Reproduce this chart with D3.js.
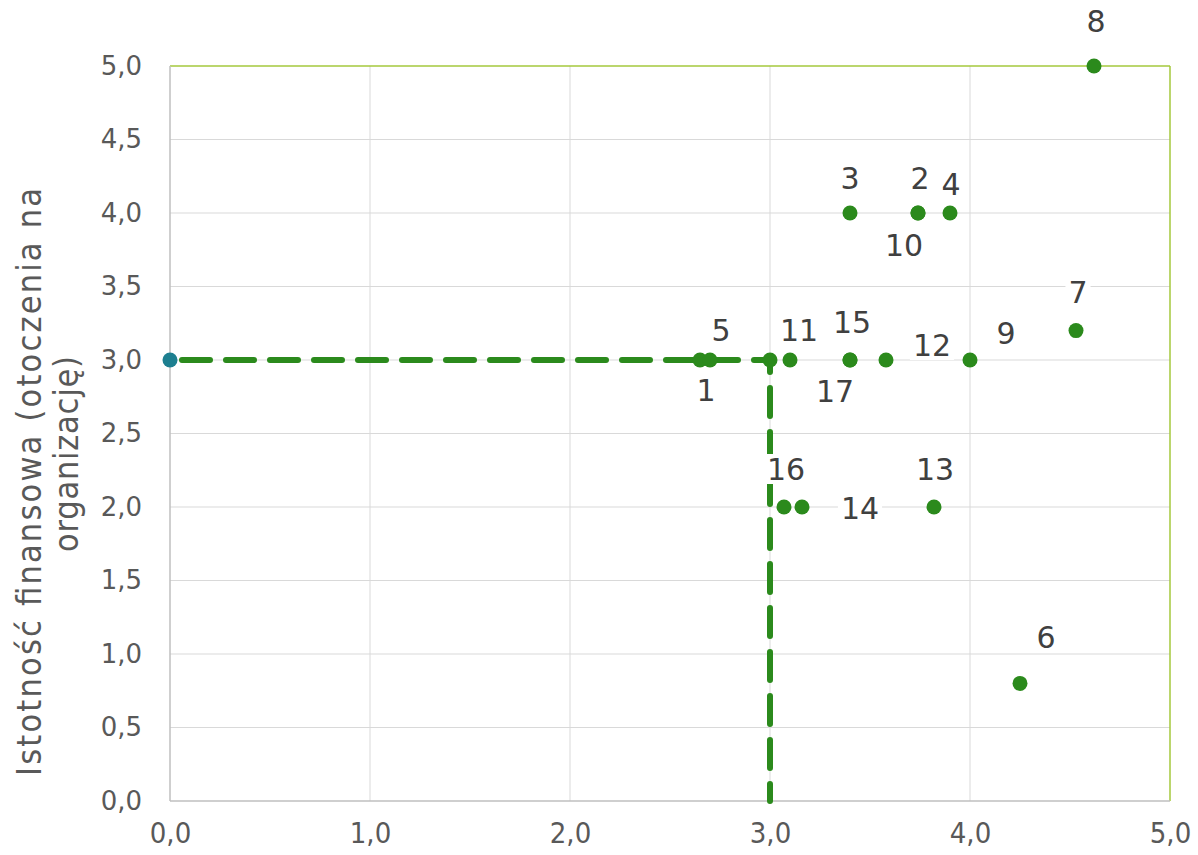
<!DOCTYPE html>
<html><head><meta charset="utf-8">
<script src="https://cdn.jsdelivr.net/npm/d3@7/dist/d3.min.js"></script>
<style>body{margin:0;background:#fff;} svg{display:block;}</style>
</head><body>
<svg id="chart" width="1198" height="855"></svg>
<script>
// ---- data ----
const pointLabels = ["1","2","3","4","5","6","7","8","9","10","11","12","13","14","15","16","17"];
const xValues = [2.65, 3.74, 3.40, 3.90, 2.70, 4.25, 4.53, 4.62, 4.00, 3.74, 3.10, 3.58, 3.82, 3.16, 3.40, 3.07, 3.40];
const yValues = [3.0, 4.0, 4.0, 4.0, 3.0, 0.8, 3.2, 5.0, 3.0, 4.0, 3.0, 3.0, 2.0, 2.0, 3.0, 2.0, 3.0];
const thresholdX = [0, 3, 3];
const thresholdY = [3, 3, 0];
const xTicks = [0, 1, 2, 3, 4, 5];
const yTicks = [0, 0.5, 1, 1.5, 2, 2.5, 3, 3.5, 4, 4.5, 5];
const yTitleLines = ["Istotność finansowa (otoczenia na", "organizację)"];
// label placement offsets (px), styling only
const labelOffsets = [[6,30],[2,-35],[0,-35],[1,-29],[11,-30],[26,-46],[2,-38],[2,-45],[36,-27],[-14,32],[9,-30],[46,-15],[1,-38],[58,1],[2,-38],[2,-38],[-15,31]];
// title line placement (styling): [baseline x, centre y, length]
const titlePlacement = [[41, 482, 588], [78, 454, 196]];

(function(){
const svg = d3.select("#chart");
const pL = 170, pR = 1170, pT = 66, pB = 801;
const x = d3.scaleLinear().domain([0,5]).range([pL,pR]);
const y = d3.scaleLinear().domain([0,5]).range([pB,pT]);
const fmt = d => d3.format(".1f")(d).replace(".", ",");
const green = "#2b8a1c";

// grid
const grid = svg.append("g");
grid.selectAll("line.v").data(xTicks.slice(1,-1)).join("line")
  .attr("x1", d=>x(d)).attr("x2", d=>x(d)).attr("y1", pT).attr("y2", pB)
  .attr("stroke", "#d9d9d9").attr("stroke-width", 1);
grid.selectAll("line.h").data(yTicks.slice(1,-1)).join("line")
  .attr("y1", d=>y(d)).attr("y2", d=>y(d)).attr("x1", pL).attr("x2", pR)
  .attr("stroke", "#d9d9d9").attr("stroke-width", 1);
// border
svg.append("line").attr("x1",pL).attr("x2",pR).attr("y1",pT).attr("y2",pT).attr("stroke","#a5c93d").attr("stroke-width",1.5);
svg.append("line").attr("x1",pR).attr("x2",pR).attr("y1",pT).attr("y2",pB).attr("stroke","#a5c93d").attr("stroke-width",1.5);
svg.append("line").attr("x1",pL).attr("x2",pL).attr("y1",pT).attr("y2",pB).attr("stroke","#bfbfbf").attr("stroke-width",1.5);
svg.append("line").attr("x1",pL).attr("x2",pR).attr("y1",pB).attr("y2",pB).attr("stroke","#bfbfbf").attr("stroke-width",1.5);

// axes via d3 axis
const xAxis = svg.append("g").attr("transform", `translate(0,${pB})`)
  .call(d3.axisBottom(x).tickValues(xTicks).tickFormat(fmt).tickSize(0).tickPadding(42));
xAxis.select(".domain").remove();
xAxis.selectAll("text").attr("font-family","'DejaVu Sans Condensed', 'DejaVu Sans', sans-serif")
  .style("font-stretch","condensed").attr("font-size", 29).attr("fill","#595959").attr("dy","0");
const yAxis = svg.append("g").attr("transform", `translate(${pL},0)`)
  .call(d3.axisLeft(y).tickValues(yTicks).tickFormat(fmt).tickSize(0).tickPadding(28));
yAxis.select(".domain").remove();
yAxis.selectAll("text").attr("font-family","'DejaVu Sans', Verdana, sans-serif")
  .attr("font-size", 26).attr("fill","#595959");

// y title (two lines)
svg.append("g").selectAll("text").data(yTitleLines).join("text")
  .attr("transform",(d,i)=>`translate(${titlePlacement[i][0]},${titlePlacement[i][1]}) rotate(-90)`)
  .attr("text-anchor","middle").attr("font-family","'DejaVu Sans Condensed', 'DejaVu Sans', sans-serif")
  .style("font-stretch","condensed").attr("font-size", 34).attr("fill","#595959")
  .attr("textLength",(d,i)=>titlePlacement[i][2]).attr("lengthAdjust","spacing")
  .text(d=>d);

// threshold dashed path
const line = d3.line().x(d=>x(d[0])).y(d=>y(d[1]));
svg.append("path").datum(thresholdX.map((d,i)=>[d, thresholdY[i]]))
  .attr("d", line).attr("fill","none").attr("stroke",green)
  .attr("stroke-width", 6).attr("stroke-dasharray","28,16").attr("stroke-linecap","round")
  .attr("stroke-dashoffset", -12);
svg.append("circle").attr("cx", x(thresholdX[0])).attr("cy", y(thresholdY[0])).attr("r", 7.5).attr("fill","#1d7f90");
svg.append("circle").attr("cx", x(thresholdX[1])).attr("cy", y(thresholdY[1])).attr("r", 7.5).attr("fill",green);

// points
const pts = xValues.map((v,i)=>({x:v, y:yValues[i], label:pointLabels[i], off:labelOffsets[i]}));
svg.append("g").selectAll("circle").data(pts).join("circle")
  .attr("cx", d=>x(d.x)).attr("cy", d=>y(d.y)).attr("r", 7.5).attr("fill",green);

// labels with white background
const lg = svg.append("g");
pts.forEach(d=>{
  const cx = x(d.x)+d.off[0], cy = y(d.y)+d.off[1];
  const g = lg.append("g");
  const t = g.append("text").attr("x", cx).attr("y", cy).attr("dy","0.36em")
    .attr("text-anchor","middle").attr("font-family","'DejaVu Sans', Verdana, sans-serif")
    .attr("font-size", 30).attr("fill","#404040").text(d.label);
  const bb = t.node().getBBox();
  g.insert("rect","text").attr("x", bb.x-3).attr("y", cy-15).attr("width", bb.width+6).attr("height", 30).attr("fill","#fff");
});
})();
</script>
</body></html>
